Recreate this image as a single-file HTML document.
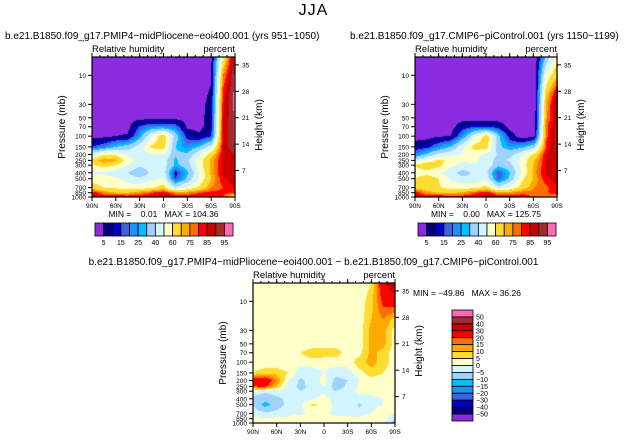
<!DOCTYPE html>
<html><head><meta charset="utf-8">
<style>
body{margin:0;background:#fff;width:627px;height:441px;overflow:hidden;position:relative;font-family:"Liberation Sans",sans-serif;}
.t{position:absolute;white-space:nowrap;color:#000;}
canvas{position:absolute;}
svg{position:absolute;left:0;top:0;}
</style></head><body>
<div class="t" style="left:0;width:627px;text-align:center;top:2px;font-size:16px;letter-spacing:1px;">JJA</div>
<div class="t" style="left:5px;top:31px;font-size:10px;">b.e21.B1850.f09_g17.PMIP4−midPliocene−eoi400.001 (yrs 951−1050)</div>
<div class="t" style="left:350px;top:31px;font-size:10px;">b.e21.B1850.f09_g17.CMIP6−piControl.001 (yrs 1150−1199)</div>
<div class="t" style="left:0;width:627px;text-align:center;top:257px;font-size:10px;">b.e21.B1850.f09_g17.PMIP4−midPliocene−eoi400.001 − b.e21.B1850.f09_g17.CMIP6−piControl.001</div>
<canvas id="c1" style="left:92px;top:57px" width="143" height="140"></canvas>
<canvas id="c2" style="left:415px;top:57px" width="143" height="140"></canvas>
<canvas id="c3" style="left:253px;top:283px" width="142" height="140"></canvas>
<svg id="s" width="627" height="441"></svg>
<script>
const lats=['90N','75N','60N','45N','30N','15N','0','15S','30S','45S','60S','75S','90S'];
const levels=[5,10,20,30,50,70,100,150,200,250,300,400,500,700,850,1000];
const plio=[
[2,2,2,2,2,2,2,2,2,2,3,60,95],
[2,2,2,2,2,2,2,2,2,2,4,75,96],
[2,2,2,2,2,2,2,2,2,2,6,82,97],
[2,2,2,2,2,2,2,2,2,2,8,84,97],
[2,2,2,2,2,2,2,2,2,2,9,85,96],
[2,2,2,2,16,22,22,20,3,2,10,86,96],
[2,3,5,6,25,50,68,35,12,7,15,86,96],
[15,20,30,35,45,62,65,30,22,30,45,86,95],
[45,60,58,48,45,50,50,32,32,48,65,86,90],
[65,75,72,55,45,48,45,28,38,55,72,86,90],
[58,65,60,50,42,45,45,28,35,55,72,86,90],
[48,48,45,40,32,42,45,12,28,50,72,86,90],
[55,55,52,45,42,48,50,15,32,52,70,84,88],
[65,60,58,55,55,58,65,42,52,62,75,80,85],
[85,75,70,70,75,80,85,75,75,80,82,82,80],
[90,85,88,85,85,85,90,85,85,85,80,80,60]];
const diff=[
[1,1,1,1,1,1,1,1,1,1,5,28,38],
[1,1,1,1,1,1,1,1,1,2,8,22,26],
[1,1,1,1,1,1,1,1,1,2,10,15,8],
[1,1,1,1,1,1,1,1,1,2,12,12,3],
[1,1,1,1,1,2,2,2,1,2,12,12,3],
[1,1,1,1,5,8,8,8,2,3,12,8,2],
[1,1,1,1,2,3,2,2,2,8,12,8,2],
[5,8,8,5,-3,-3,0,-3,-2,3,8,5,1],
[25,28,15,0,-6,-3,2,-7,-5,0,3,1,1],
[20,22,10,-3,-6,-4,0,-8,-4,1,2,1,1],
[-3,-4,-3,-3,-5,-4,-2,-5,-2,1,1,1,1],
[-6,-8,-6,-4,-3,-1,3,-3,-2,-2,-1,0,0],
[-5,-12,-8,-3,-1,6,4,-2,-1,-6,-1,0,0],
[-2,-4,-3,-1,-1,1,1,-1,-1,-3,0,2,0],
[1,1,1,1,3,1,1,1,1,2,5,3,-5],
[1,1,1,1,1,1,1,1,1,1,1,0,-8]];
const ctrl=plio.map((r,i)=>r.map((v,j)=>v-diff[i][j]));
const rhLevels=[5,10,15,20,25,30,40,50,60,70,75,80,85,90,95];
const rhLabels=['5','15','25','40','60','75','85','95'];
const dLevels=[-50,-40,-30,-20,-15,-10,-5,0,5,10,15,20,30,40,50];
const dLabels=['50','40','30','20','15','10','5','0','−5','−10','−15','−20','−30','−40','−50'];
const rhColors=['#8a2be2','#00007f','#0000c8','#3c64dc','#1e90ff','#00bfff','#a0d2ff','#d2f5ff','#ffffc8','#ffdc32','#ffaa00','#ff6e00','#ff0000','#c80000','#a52a2a','#ff69b4'];
const pTicks=[10,30,50,70,100,150,200,250,300,400,500,700,850,1000];
const hTicks=[7,14,21,28,35];
const latTicks=['90N','60N','30N','0','30S','60S','90S'];

const H=140,pTop=5,pBot=1000;
const yOf=p=>H*(Math.log10(p)-Math.log10(pTop))/(Math.log10(pBot)-Math.log10(pTop));
function sample(g,fx,lp){
  const lg=levels.map(Math.log10);
  let i=0;while(i<lg.length-2&&lp>lg[i+1])i++;
  let t=(lp-lg[i])/(lg[i+1]-lg[i]);t=Math.max(0,Math.min(1,t));
  let j=Math.min(Math.floor(fx),11),u=fx-j;
  const a=g[i][j]*(1-u)+g[i][j+1]*u,b=g[i+1][j]*(1-u)+g[i+1][j+1]*u;
  return a*(1-t)+b*t;
}
function hex(c){return [1,3,5].map(k=>parseInt(c.substr(k,2),16));}
function draw(id,g,lv){
  const cv=document.getElementById(id),ctx=cv.getContext('2d'),W=cv.width;
  const im=ctx.createImageData(W,H);
  for(let y=0;y<H;y++){const lp=Math.log10(pTop)+(y+0.5)/H*(Math.log10(pBot)-Math.log10(pTop));
    for(let x=0;x<W;x++){const v=sample(g,(x+0.5)/W*12,lp);let k=0;while(k<lv.length&&v>=lv[k])k++;
      const c=hex(rhColors[k]);const o=(y*W+x)*4;im.data[o]=c[0];im.data[o+1]=c[1];im.data[o+2]=c[2];im.data[o+3]=255;}}
  ctx.putImageData(im,0,0);
}
draw('c1',plio,rhLevels);draw('c2',ctrl,rhLevels);draw('c3',diff,dLevels);

const s=document.getElementById('s');const NS='http://www.w3.org/2000/svg';
function el(tag,at,txt){const e=document.createElementNS(NS,tag);for(const k in at)e.setAttribute(k,at[k]);if(txt!=null)e.textContent=txt;s.appendChild(e);return e;}
function panel(x0,y0,W,name,minmax){
  const r=el('rect',{x:x0,y:y0,width:W,height:H,fill:'none',stroke:'#000','stroke-width':1.2});
  
  pTicks.forEach(p=>{const y=y0+yOf(p);el('line',{x1:x0-4,x2:x0,y1:y,y2:y,stroke:'#000'});
    const t=el('text',{x:x0-6,y:y+2.5,'font-size':6.5,'text-anchor':'end','font-family':'Liberation Sans'},p);
    });
  hTicks.forEach(h=>{const p=1000*Math.exp(-h/7);const y=y0+yOf(p);el('line',{x1:x0+W,x2:x0+W+4,y1:y,y2:y,stroke:'#000'});
    const t=el('text',{x:x0+W+7,y:y+2.5,'font-size':6.5,'font-family':'Liberation Sans'},h);
    });
  latTicks.forEach((l,i)=>{const x=x0+W*i/6;el('line',{x1:x,x2:x,y1:y0+H,y2:y0+H+4,stroke:'#000'});el('line',{x1:x,x2:x,y1:y0,y2:y0-4,stroke:'#000'});
    const t=el('text',{x:x,y:y0+H+11,'font-size':6.5,'text-anchor':'middle','font-family':'Liberation Sans'},l);
    });
  for(let i=0;i<18;i++){const x=x0+W*i/18;el('line',{x1:x,x2:x,y1:y0,y2:y0-2,stroke:'#000'});}
  let t=el('text',{x:x0,y:y0-5,'font-size':9.5,'font-family':'Liberation Sans'},'Relative humidity');
  
  t=el('text',{x:x0+W,y:y0-5,'font-size':9.5,'text-anchor':'end','font-family':'Liberation Sans'},'percent');
  
  t=el('text',{x:x0-27,y:y0+H/2,'font-size':10,'text-anchor':'middle','font-family':'Liberation Sans',transform:`rotate(-90 ${x0-27} ${y0+H/2})`},'Pressure (mb)');
  
  t=el('text',{x:x0+W+27,y:y0+H/2-2,'font-size':10,'text-anchor':'middle','font-family':'Liberation Sans',transform:`rotate(-90 ${x0+W+27} ${y0+H/2-2})`},'Height (km)');
  
  if(minmax){t=el('text',{x:x0+W/2,y:y0+H+20,'font-size':8.5,'text-anchor':'middle','font-family':'Liberation Sans',style:'white-space:pre'},minmax);
    }
}
panel(92,57,143,'left-panel','MIN =    0.01   MAX = 104.36');
panel(415,57,142,'right-panel','MIN =    0.00   MAX = 125.75');
panel(253,283,142,'diff-panel',null);
let mm=el('text',{x:413,y:296,'font-size':8.5,'font-family':'Liberation Sans',style:'white-space:pre'},'MIN = −49.86   MAX = 36.26');

function hbar(x0,y0,W,h){const n=16,w=W/n;
  for(let i=0;i<n;i++){const r=el('rect',{x:x0+i*w,y:y0,width:w,height:h,fill:rhColors[i],stroke:'#000','stroke-width':0.8});
    }
  rhLabels.forEach((l,k)=>{const t=el('text',{x:x0+(2*k+1)*w,y:y0+h+9,'font-size':7,'text-anchor':'middle','font-family':'Liberation Sans'},l);
    });}
hbar(95,223,138,13);hbar(418,223,138,13);
(function(){const x0=452,y0=310,W=21,n=16,h=111/n;
  for(let i=0;i<n;i++){const r=el('rect',{x:x0,y:y0+i*h,width:W,height:h,fill:rhColors[n-1-i],stroke:'#000','stroke-width':0.8});
    }
  dLabels.forEach((l,k)=>{const t=el('text',{x:x0+W+3,y:y0+(k+1)*h+2.5,'font-size':7,'font-family':'Liberation Sans'},l);
    });})();
</script>
</body></html>
